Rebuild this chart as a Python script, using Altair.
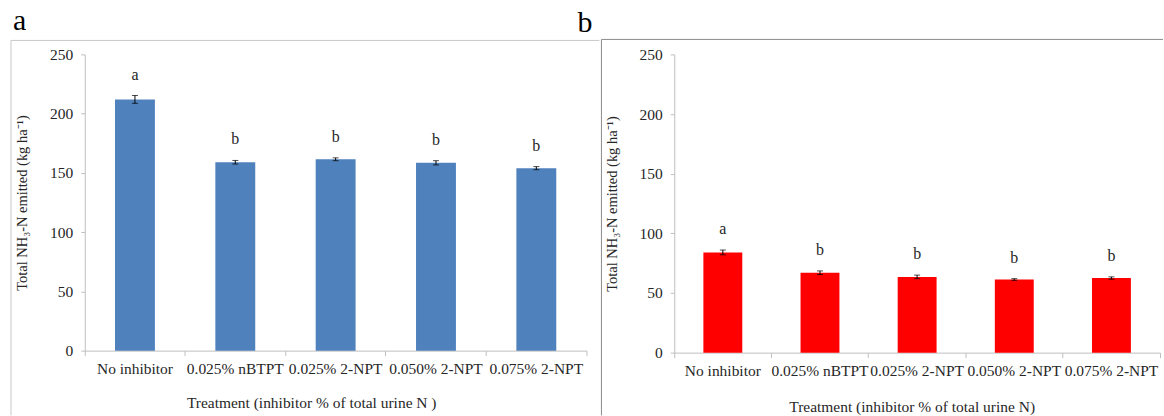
import altair as alt
import pandas as pd

treatments = ["No inhibitor", "0.025% nBTPT", "0.025% 2-NPT", "0.050% 2-NPT", "0.075% 2-NPT"]

a_values = [212.0, 159.0, 161.5, 158.5, 154.0]
a_errors = [3.3, 1.5, 1.2, 1.8, 1.3]
a_letters = ["a", "b", "b", "b", "b"]

b_values = [84.0, 67.0, 63.5, 61.3, 62.5]
b_errors = [2.0, 1.5, 1.5, 0.7, 1.0]
b_letters = ["a", "b", "b", "b", "b"]

y_ticks = [0, 50, 100, 150, 200, 250]
y_title = "Total NH\u2083-N emitted (kg ha\u207b\u00b9)"

FONT = "Liberation Serif"
TXT = "#262626"


def panel(values, errors, letters, color, W, H, xtitle, xtitle_x, xtitle_y,
          letters_spec, frame_color, fx, fx2, fy, fy2, bar_size, anchor_x):
    df = pd.DataFrame({
        "t": treatments,
        "v": values,
        "lo": [v - e for v, e in zip(values, errors)],
        "hi": [v + e for v, e in zip(values, errors)],
        "sig": letters,
    })
    x = alt.X("t:N", sort=treatments,
              scale=alt.Scale(paddingInner=0, paddingOuter=0),
              axis=alt.Axis(title=xtitle, labelAngle=0, bandPosition=1, tickExtra=True,
                            tickSize=5, labelPadding=6,
                            domainColor="#bfbfbf", tickColor="#bfbfbf",
                            labelFont=FONT, labelFontSize=15.5, labelColor=TXT,
                            titleFont=FONT, titleFontSize=15.5, titleFontWeight="normal",
                            titleColor=TXT, titleX=xtitle_x, titleY=xtitle_y,
                            titleAnchor="start", titleAlign="center",
                            titleBaseline="alphabetic", grid=False))

    def yenc(field):
        return alt.Y(field + ":Q",
                     scale=alt.Scale(domain=[0, 250], nice=False, zero=True),
                     axis=alt.Axis(title=y_title, values=y_ticks, tickSize=4, labelPadding=8,
                                   domainColor="#bfbfbf", tickColor="#bfbfbf",
                                   labelFont=FONT, labelFontSize=15.5, labelColor=TXT,
                                   titleFont=FONT, titleFontSize=14.5, titleFontWeight="normal",
                                   titleColor=TXT, titleX=-62, titleY=H / 2, titleAngle=270,
                                   titleAlign="center", titleBaseline="middle", grid=False))

    base = alt.Chart(df)
    one = alt.Chart(pd.DataFrame({"k": [0]}))

    layers = []
    layers.append(one.mark_rect(fill="white", opacity=1).encode(
        x=alt.value(anchor_x), x2=alt.value(anchor_x + 1), y=alt.value(-53), y2=alt.value(-52)))
    layers.append(one.mark_rule(color=frame_color, strokeWidth=1).encode(
        x=alt.value(fx), x2=alt.value(fx2), y=alt.value(fy), y2=alt.value(fy)))
    layers.append(one.mark_rule(color=frame_color, strokeWidth=1).encode(
        x=alt.value(fx), x2=alt.value(fx), y=alt.value(fy), y2=alt.value(fy2)))
    for txt, lx, ly in letters_spec:
        layers.append(one.mark_text(font=FONT, fontSize=30, align="left", baseline="alphabetic",
                                    color="black").encode(
            x=alt.value(lx), y=alt.value(ly), text=alt.value(txt)))

    layers.append(base.mark_bar(size=bar_size, color=color).encode(x=x, y=yenc("v")))
    layers.append(base.mark_rule(color="black", strokeWidth=1).encode(
        x=x, y=yenc("lo"), y2="hi:Q"))
    layers.append(base.mark_tick(color="black", size=6, thickness=1).encode(x=x, y=yenc("lo")))
    layers.append(base.mark_tick(color="black", size=6, thickness=1).encode(x=x, y=yenc("hi")))
    layers.append(base.mark_text(font=FONT, fontSize=16, color=TXT, baseline="alphabetic",
                                 dy=-16).encode(x=x, y=yenc("hi"), text="sig:N"))

    return alt.layer(*layers).properties(width=W, height=H)


pa = panel(a_values, a_errors, a_letters, "#4f81bd", 503, 297,
           "Treatment (inhibitor % of total urine N )", 227, 57,
           [("a", -72, -24), ("b", 494, -22)],
           "#c8c8c8", -74, 516, -14, 362, 40, -84)
pb = panel(b_values, b_errors, b_letters, "#ff0000", 487, 299,
           "Treatment (inhibitor % of total urine N)", 238, 59,
           [],
           "#8c8c8c", -73, 490, -15, 362, 39, -73)

chart = alt.hconcat(pa, pb, spacing=0).properties(
    padding=0, background="white"
).configure_view(stroke="transparent")

chart.save("out.html", embed_options={"renderer": "svg", "actions": False})
